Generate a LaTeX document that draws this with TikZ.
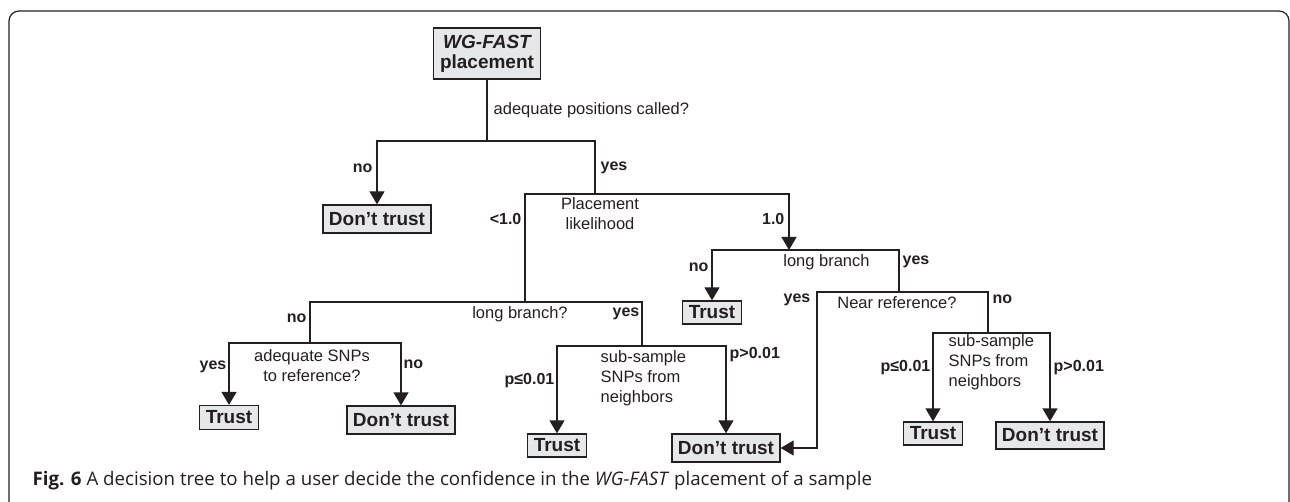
\documentclass[tikz,border=0pt]{standalone}
\usepackage{fontspec}
\setmainfont{Liberation Sans}
\newfontfamily\capfont{Open Sans}
\usetikzlibrary{arrows.meta}
\definecolor{dtln}{RGB}{35,31,32}
\definecolor{dtbg}{RGB}{230,231,232}
\tikzset{dtp/.style={
  x=1pt,
  y=-1pt,
  line width=1.3pt,
  color=dtln
}}
\tikzset{dtb/.style={
  draw,
  fill=dtbg,
  shape=rectangle,
  inner xsep=6pt,
  inner ysep=0pt,
  font=\fontsize{19}{20}\selectfont\bfseries,
}}
\tikzset{trb/.style={dtb,minimum height=24pt}}
\tikzset{dnb/.style={dtb,minimum height=28pt}}
\tikzset{qtx/.style={inner sep=0pt,font=\fontsize{16.5}{20}\selectfont}}
\tikzset{ans/.style={inner sep=0pt,font=\fontsize{16}{18}\selectfont\bfseries}}
\tikzset{arw/.style={-{Triangle[width=15pt,length=13pt]}}}

\begin{document}
\begin{tikzpicture}[dtp]
    \useasboundingbox (0,0) rectangle (1290,502);
    % Frame
    \draw[line width=1.2pt,rounded corners=10pt] (9,510) -- (9,11) -- (1289,11) -- (1289,510);
    % Boxes
    \node[dtb,minimum width=107pt,minimum height=51pt,align=center] (root) at (487,53.5)
      {\itshape WG-FAST\\placement};
    \node[dnb] (dt1) at (377,219) {Don't trust};
    \node[trb] (tr1) at (229,417.5) {Trust};
    \node[dnb] (dt2) at (401,420) {Don't trust};
    \node[trb,minimum height=23pt] (tr2) at (557,445.5) {Trust};
    \node[dnb] (dt3) at (726,448) {Don't trust};
    \node[trb,minimum height=23pt] (tr3) at (712,312.5) {Trust};
    \node[trb,minimum height=23pt] (tr4) at (933,433.5) {Trust};
    \node[dnb,minimum height=27pt] (dt4) at (1050,435.5) {Don't trust};
    % Junctions
    \coordinate (j1) at (487,141);
    \coordinate (j2) at (595,194);
    \coordinate (j3) at (789,250);
    \coordinate (j4) at (899,292);
    \coordinate (j5) at (988,333);
    \coordinate (j6) at (525,302);
    \coordinate (j7) at (310,343);
    \coordinate (j8) at (642,346);
    \coordinate (k1) at (817,448);
    % Tree
    \draw (root) -- (j1);
    \draw[arw] (j1) -| (dt1);
    \draw (j1) -| (j2);
    \draw (j2) -| (j6);
    \draw[arw] (j2) -| (j3);
    \draw (j6) -| (j7);
    \draw (j6) -| (j8);
    \draw[arw] (j7) -| (tr1);
    \draw[arw] (j7) -| (dt2);
    \draw[arw] (j8) -| (tr2);
    \draw[arw] (j8) -| (dt3);
    \draw[arw] (j3) -| (tr3);
    \draw (j3) -| (j4);
    \draw[arw] (j4) -| (k1) -- (dt3);
    \draw (j4) -| (j5);
    \draw[arw] (j5) -| (tr4);
    \draw[arw] (j5) -| (dt4);
    % Questions
    \node[qtx,anchor=west] (q1) at (493,110) {adequate positions called?};
    \node[qtx,align=center] (q2) at (600,214) {Placement\\likelihood};
    \node[qtx] (q3) at (520,314) {long branch?};
    \node[qtx,align=center] (q4) at (312,366) {adequate SNPs\\to reference?};
    \node[qtx,anchor=west,align=left] (q5) at (600,378.5) {sub-sample\\SNPs from\\neighbors};
    \node[qtx] (q6) at (826.5,262) {long branch};
    \node[qtx] (q7) at (897,303) {Near reference?};
    \node[qtx,anchor=west,align=left] (q8) at (948,362.5) {sub-sample\\SNPs from\\neighbors};
    % Answers
    \node[ans,anchor=east] (a1) at (373,168) {no};
    \node[ans,anchor=west] (a2) at (600,168) {yes};
    \node[ans,anchor=east] (a3) at (522,219) {<1.0};
    \node[ans,anchor=east] (a4) at (785,219) {1.0};
    \node[ans,anchor=east] (a5) at (307,318) {no};
    \node[ans,anchor=east] (a6) at (640,314) {yes};
    \node[ans,anchor=east] (a7) at (227,367) {yes};
    \node[ans,anchor=west] (a8) at (403,364) {no};
    \node[ans,anchor=east] (a9) at (555,381) {p≤0.01};
    \node[ans,anchor=west] (a10) at (729,355) {p>0.01};
    \node[ans,anchor=east] (a11) at (709,267) {no};
    \node[ans,anchor=west] (a12) at (902,262) {yes};
    \node[ans,anchor=east] (a13) at (811,300) {yes};
    \node[ans,anchor=west] (a14) at (992,299) {no};
    \node[ans,anchor=east] (a15) at (931,368) {p≤0.01};
    \node[ans,anchor=west] (a16) at (1053,368) {p>0.01};
    % Caption
    \node[anchor=west,inner sep=0pt,font=\capfont\fontsize{18.7}{22}\selectfont] (cap) at (32,481)
      {\textbf{Fig. 6} A decision tree to help a user decide the confidence in the \textit{WG-FAST} placement of a sample};
\end{tikzpicture}
\end{document}
